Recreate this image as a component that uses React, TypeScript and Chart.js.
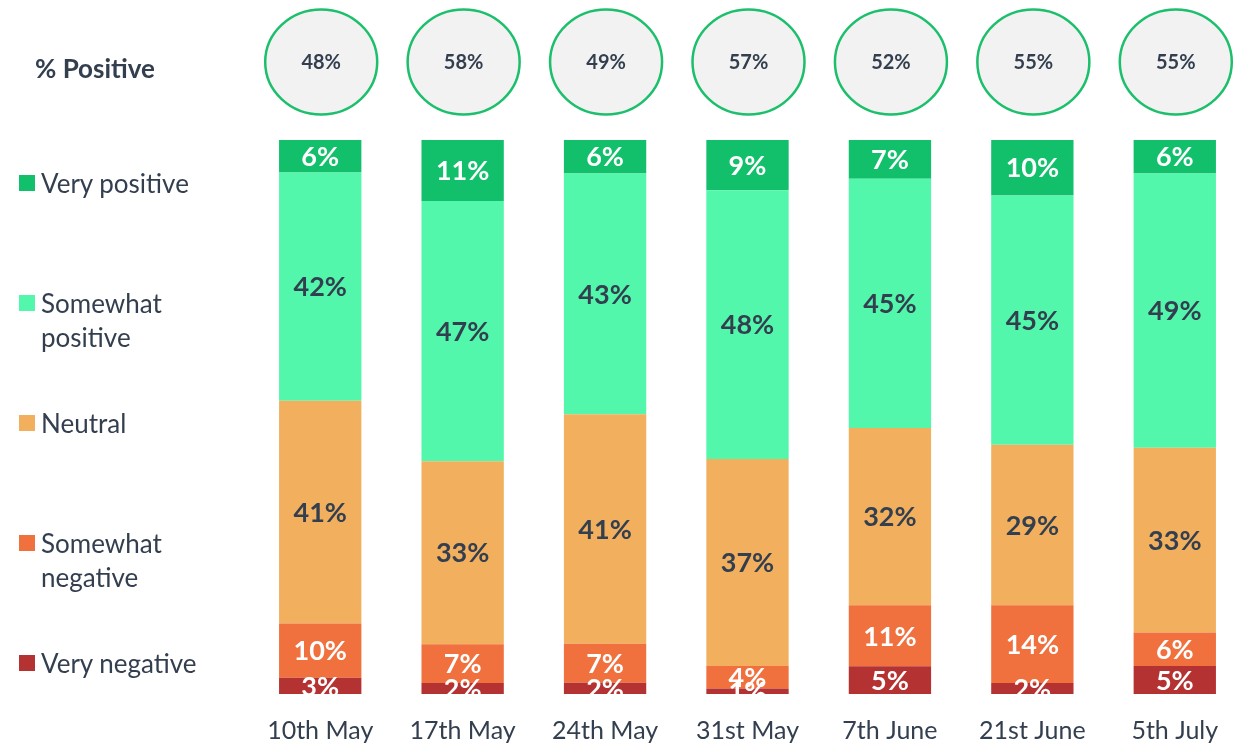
import React, { useEffect, useRef } from "react";
import { Chart, registerables } from "chart.js";

Chart.register(...registerables);

const categories = ["10th May", "17th May", "24th May", "31st May", "7th June", "21st June", "5th July"];
const veryNegative = [3, 2, 2, 1, 5, 2, 5];
const somewhatNegative = [10, 7, 7, 4, 11, 14, 6];
const neutral = [41, 33, 41, 37, 32, 29, 33];
const somewhatPositive = [42, 47, 43, 48, 45, 45, 49];
const veryPositive = [6, 11, 6, 9, 7, 10, 6];
const percentPositive = [48, 58, 49, 57, 52, 55, 55];

const seriesNames = ["Very negative", "Somewhat negative", "Neutral", "Somewhat positive", "Very positive"];
const seriesValues = [veryNegative, somewhatNegative, neutral, somewhatPositive, veryPositive];
const seriesColors = ["#b53232", "#f0703e", "#f2b05e", "#52f7ab", "#12c06b"];
const labelColors = ["#ffffff", "#ffffff", "#333f4f", "#333f4f", "#ffffff"];

const TEXT = "#333f4f";
const FONT = "Lato, 'Open Sans', sans-serif";

const totals = categories.map((_, i) => seriesValues.reduce((s, arr) => s + arr[i], 0));

const segLabels = {
  id: "segLabels",
  afterDatasetsDraw(chart: any) {
    const { ctx, chartArea } = chart;
    ctx.save();
    ctx.beginPath();
    ctx.rect(chartArea.left, 0, chartArea.right - chartArea.left, chartArea.bottom);
    ctx.clip();
    ctx.font = `bold 27px ${FONT}`;
    ctx.textAlign = "center";
    ctx.textBaseline = "middle";
    chart.data.datasets.forEach((ds: any, di: number) => {
      const meta = chart.getDatasetMeta(di);
      meta.data.forEach((bar: any, i: number) => {
        const { x, y, base } = bar.getProps(["x", "y", "base"], true);
        ctx.fillStyle = labelColors[di];
        ctx.fillText(`${ds.rawValues[i]}%`, x, (y + base) / 2 + 1);
      });
    });
    ctx.restore();
  },
};

const circles = {
  id: "circles",
  afterDraw(chart: any) {
    const { ctx } = chart;
    const xs = chart.scales.x;
    ctx.save();
    percentPositive.forEach((v, i) => {
      const cx = xs.getPixelForValue(i) + 1;
      const cy = 62;
      ctx.beginPath();
      ctx.ellipse(cx, cy, 56, 52.5, 0, 0, Math.PI * 2);
      ctx.fillStyle = "#f2f2f2";
      ctx.fill();
      ctx.lineWidth = 2.5;
      ctx.strokeStyle = "#1cbf6b";
      ctx.stroke();
      ctx.fillStyle = TEXT;
      ctx.font = `bold 20px ${FONT}`;
      ctx.textAlign = "center";
      ctx.textBaseline = "middle";
      ctx.fillText(`${v}%`, cx, cy + 1);
    });
    ctx.restore();
  },
};

const legendItems = [
  { idx: 4, lines: ["Very positive"], center: 183 },
  { idx: 3, lines: ["Somewhat", "positive"], center: 303 },
  { idx: 2, lines: ["Neutral"], center: 423 },
  { idx: 1, lines: ["Somewhat", "negative"], center: 543 },
  { idx: 0, lines: ["Very negative"], center: 663 },
];

export default function App() {
  const ref = useRef<HTMLCanvasElement>(null);

  useEffect(() => {
    if (!ref.current) return;
    const chart = new Chart(ref.current, {
      type: "bar",
      data: {
        labels: categories,
        datasets: seriesValues.map((vals, di) => ({
          label: seriesNames[di],
          data: vals.map((v, i) => (v / totals[i]) * 100),
          rawValues: vals,
          backgroundColor: seriesColors[di],
          borderWidth: 0,
          barPercentage: 0.578,
          categoryPercentage: 1,
        })) as any,
      },
      options: {
        responsive: false,
        animation: false,
        devicePixelRatio: 1,
        layout: { padding: { left: 249, right: 2, top: 140, bottom: 0 } },
        plugins: { legend: { display: false }, tooltip: { enabled: false } },
        scales: {
          x: {
            stacked: true,
            grid: { display: false, drawTicks: false },
            border: { display: false },
            ticks: { color: TEXT, font: { family: FONT, size: 25 }, padding: 22 },
            afterFit: (scale: any) => {
              scale.height = 52;
            },
          },
          y: {
            stacked: true,
            display: false,
            min: 0,
            max: 100,
          },
        },
      },
      plugins: [segLabels, circles],
    });
    return () => chart.destroy();
  }, []);

  return (
    <div style={{ position: "absolute", left: 0, top: 0, width: 1248, height: 746, background: "#fff", fontFamily: FONT, color: TEXT }}>
      <canvas ref={ref} width={1248} height={746} style={{ position: "absolute", left: 0, top: 0 }} />
      <div style={{ position: "absolute", left: 35, top: 52, fontSize: 26, fontWeight: 700, lineHeight: "32px", whiteSpace: "nowrap" }}>
        % Positive
      </div>
      {legendItems.map((it) => (
        <div key={it.idx} style={{ position: "absolute", left: 19, top: it.center - 17 }}>
          <div style={{ position: "absolute", left: 0, top: 9, width: 16, height: 16, background: seriesColors[it.idx] }} />
          <div style={{ position: "absolute", left: 22, top: 0, fontSize: 26, lineHeight: "34px", whiteSpace: "nowrap" }}>
            {it.lines.map((l, k) => (
              <div key={k}>{l}</div>
            ))}
          </div>
        </div>
      ))}
    </div>
  );
}
